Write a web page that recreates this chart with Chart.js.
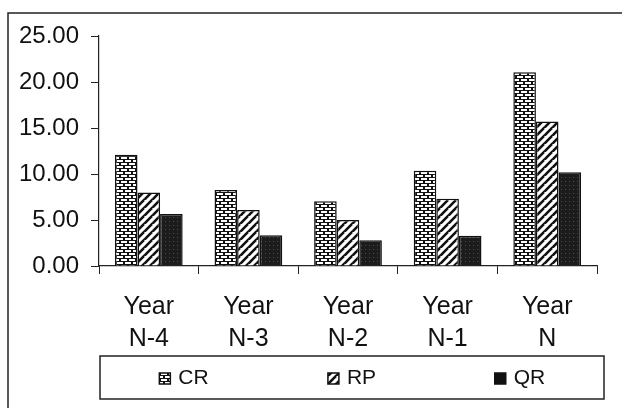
<!DOCTYPE html>
<html>
<head>
<meta charset="utf-8">
<script src="https://cdn.jsdelivr.net/npm/chart.js@4"></script>
<style>
  body { margin: 0; background: #fff; }
  canvas { display: block; }
</style>
</head>
<body>
<canvas id="ratios" width="622" height="408"></canvas>
<script>
// values
const categories = [['Year', 'N-4'], ['Year', 'N-3'], ['Year', 'N-2'], ['Year', 'N-1'], ['Year', 'N']];
const crValues = [12.1, 8.25, 7.05, 10.35, 21.05];
const rpValues = [8.0, 6.1, 5.0, 7.3, 15.7];
const qrValues = [5.65, 3.35, 2.8, 3.3, 10.2];
const seriesNames = ['CR', 'RP', 'QR'];
const yTicks = [0, 5, 10, 15, 20, 25];

const FONT = "'Liberation Sans', Arial, sans-serif";

// fill patterns
function brickPattern() {
  const c = document.createElement('canvas');
  c.width = 8; c.height = 6;
  const g = c.getContext('2d');
  g.fillStyle = '#111';
  g.fillRect(0, 0, 8, 6);
  g.fillStyle = '#fff';
  g.fillRect(1, 1, 6, 2);
  g.fillRect(-3, 4, 6, 2);
  g.fillRect(5, 4, 6, 2);
  return g.createPattern(c, 'repeat');
}

function stripePattern() {
  const c = document.createElement('canvas');
  c.width = 8; c.height = 8;
  const g = c.getContext('2d');
  g.fillStyle = '#fff';
  g.fillRect(0, 0, 8, 8);
  g.strokeStyle = '#111';
  g.lineWidth = 2.6;
  for (let k = -8; k <= 16; k += 8) {
    g.beginPath();
    g.moveTo(k - 8, 16);
    g.lineTo(k + 8, 0);
    g.stroke();
  }
  return g.createPattern(c, 'repeat');
}

function darkPattern() {
  const c = document.createElement('canvas');
  c.width = 4; c.height = 4;
  const g = c.getContext('2d');
  g.fillStyle = '#1c1c1c';
  g.fillRect(0, 0, 4, 4);
  g.fillStyle = '#4a4a4a';
  g.fillRect(1, 1, 1, 1);
  return g.createPattern(c, 'repeat');
}

const fills = [brickPattern(), stripePattern(), darkPattern()];

// frame round the picture and the boxed legend
const framePlugin = {
  id: 'frame',
  afterDraw(chart) {
    const ctx = chart.ctx;
    ctx.save();
    ctx.strokeStyle = '#222';
    ctx.lineWidth = 1.5;
    ctx.beginPath();
    ctx.moveTo(8, 408);
    ctx.lineTo(8, 13);
    ctx.lineTo(622, 13);
    ctx.stroke();

    const box = { left: 100, top: 356, width: 504, height: 43 };
    ctx.strokeRect(box.left, box.top, box.width, box.height);

    ctx.font = '21px ' + FONT;
    ctx.textBaseline = 'middle';
    const cy = box.top + box.height / 2 + 1;
    chart.data.datasets.forEach((ds, i) => {
      const label = ds.label;
      const tw = ctx.measureText(label).width;
      const sym = 11, gap = 8;
      const cx = box.left + box.width * (i + 0.5) / 3;
      const x0 = cx - (sym + gap + tw) / 2;
      ctx.fillStyle = i === 2 ? '#111' : ds.backgroundColor;
      ctx.fillRect(x0, cy - sym / 2, sym, sym);
      ctx.lineWidth = 1.5;
      ctx.strokeStyle = '#111';
      ctx.strokeRect(x0, cy - sym / 2, sym, sym);
      ctx.fillStyle = '#111';
      ctx.fillText(label, x0 + sym + gap, cy);
    });
    ctx.restore();
  }
};

new Chart(document.getElementById('ratios'), {
  type: 'bar',
  data: {
    labels: categories,
    datasets: [crValues, rpValues, qrValues].map((vals, i) => ({
      label: seriesNames[i],
      data: vals,
      backgroundColor: fills[i],
      borderColor: '#111',
      borderWidth: 1.5,
      borderSkipped: 'bottom',
      categoryPercentage: 0.68,
      barPercentage: 1.0
    }))
  },
  options: {
    responsive: false,
    animation: false,
    layout: { padding: { left: 8, right: 25, top: 36, bottom: 36 } },
    plugins: {
      legend: { display: false },
      tooltip: { enabled: false }
    },
    scales: {
      x: {
        grid: { drawOnChartArea: false, tickLength: 8, color: '#222', offset: true },
        border: { color: '#222', width: 1.2 },
        ticks: {
          color: '#111',
          font: { family: FONT, size: 25, lineHeight: 1.28 },
          maxRotation: 0,
          padding: 17
        }
      },
      y: {
        min: 0,
        max: 25,
        afterBuildTicks(axis) { axis.ticks = yTicks.map(v => ({ value: v })); },
        afterFit(axis) { axis.width = 91; },
        grid: { drawOnChartArea: false, tickLength: 8, color: '#222' },
        border: { color: '#222', width: 1.2 },
        ticks: {
          color: '#111',
          font: { family: FONT, size: 24 },
          padding: 12,
          callback: v => Number(v).toFixed(2)
        }
      }
    }
  },
  plugins: [framePlugin]
});
</script>
</body>
</html>
